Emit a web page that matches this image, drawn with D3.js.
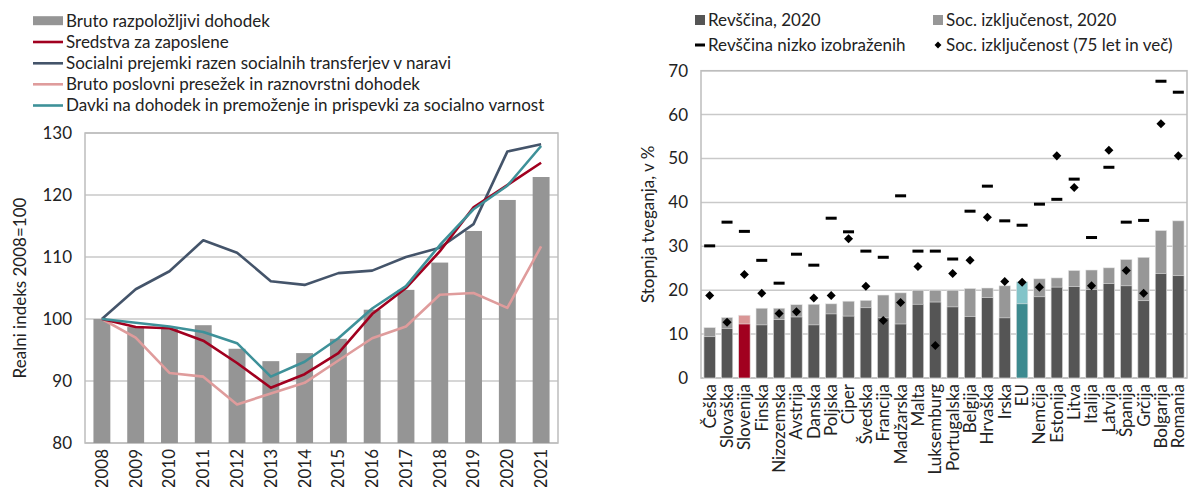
<!DOCTYPE html>
<html><head><meta charset="utf-8">
<script src="https://cdn.jsdelivr.net/npm/d3@7"></script>
<style>
html,body{margin:0;padding:0;background:#fff;}
svg{display:block;font-family:Lato,"Open Sans",sans-serif;}
</style></head>
<body>
<svg id="c" width="1188" height="487"></svg>
<script>
// ---------- Left chart data ----------
const years = ["2008","2009","2010","2011","2012","2013","2014","2015","2016","2017","2018","2019","2020","2021"];
const brutoRazpolozljivi = [100,98.7,98.5,99.0,95.2,93.2,94.5,96.8,101.5,104.7,109.1,114.2,119.2,122.9];
const sredstvaZaposlene = [100,98.7,98.5,96.5,92.9,88.9,91.1,94.5,100.8,105.0,110.9,118.0,121.6,125.2];
const socialniPrejemki = [100,104.8,107.7,112.7,110.7,106.1,105.5,107.4,107.8,110.0,111.5,115.3,127.0,128.2];
const brutoPoslovni = [100,97.0,91.3,90.7,86.2,88.0,89.7,93.3,96.9,98.8,103.9,104.2,101.8,111.7];
const davki = [100,99.4,98.8,97.9,96.1,90.7,93.1,96.9,101.7,105.3,111.9,117.7,121.5,127.9];
const leftTicks = [80,90,100,110,120,130];
const leftLegend = ["Bruto razpoložljivi dohodek","Sredstva za zaposlene","Socialni prejemki razen socialnih transferjev v naravi","Bruto poslovni presežek in raznovrstni dohodek","Davki na dohodek in premoženje in prispevki za socialno varnost"];

// ---------- Right chart data ----------
const countries = ["Češka","Slovaška","Slovenija","Finska","Nizozemska","Avstrija","Danska","Poljska","Ciper","Švedska","Francija","Madžarska","Malta","Luksemburg","Portugalska","Belgija","Hrvaška","Irska","EU","Nemčija","Estonija","Litva","Italija","Latvija","Španija","Grčija","Bolgarija","Romania"];
const revscina2020 = [9.4,11.3,12.3,12.1,13.3,13.9,12.1,14.6,14.1,16.0,13.7,12.3,16.8,17.3,16.2,14.0,18.3,13.7,16.9,18.5,20.7,20.8,20.2,21.5,21.0,17.6,23.8,23.3];
const socIzkljucenost2020 = [11.5,13.8,14.3,15.9,15.9,16.7,16.8,16.9,17.5,17.7,18.9,19.4,20.0,20.0,20.0,20.4,20.5,21.0,21.9,22.6,22.8,24.5,24.6,25.1,27.0,27.5,33.6,35.8];
const revscinaNizkoIzobrazenih = [30.1,35.5,33.4,26.8,21.6,28.2,25.7,36.4,33.3,28.9,27.5,41.5,28.9,28.9,27.1,38.0,43.7,35.8,34.8,39.6,40.7,45.3,32.0,48.0,35.5,35.9,67.6,65.1];
const socIzkljucenost75 = [18.8,12.7,23.6,19.3,14.7,15.1,18.2,18.8,31.7,20.9,13.1,17.2,25.4,7.4,23.8,26.8,36.6,22.0,21.8,20.7,50.6,43.4,21.0,51.9,24.5,19.3,57.9,50.6];
const rightTicks = [0,10,20,30,40,50,60,70];
const rightLegend = ["Revščina, 2020","Soc. izključenost, 2020","Revščina nizko izobraženih","Soc. izključenost (75 let in več)"];

const svg = d3.select("#c");
const FS = 17;
const gridCol = "#c9c9c9", frameCol = "#bdbdbd";

// ================= LEFT CHART =================
const L = {x0:85, x1:558, y0:133, y1:443};
const lx = d3.scaleBand().domain(years).range([L.x0, L.x1]).padding(0);
const ly = d3.scaleLinear().domain([80,130]).range([L.y1, L.y0]);
const lg = svg.append("g");

lg.selectAll("line.g").data(leftTicks).join("line")
  .attr("x1",L.x0).attr("x2",L.x1).attr("y1",d=>ly(d)).attr("y2",d=>ly(d))
  .attr("stroke",gridCol).attr("stroke-width",1.5);
lg.append("rect").attr("x",L.x0).attr("y",L.y0).attr("width",L.x1-L.x0).attr("height",L.y1-L.y0)
  .attr("fill","none").attr("stroke",frameCol).attr("stroke-width",1.5);

const bw = lx.bandwidth()*0.5;
lg.selectAll("rect.b").data(years).join("rect")
  .attr("x",d=>lx(d)+lx.bandwidth()/2-bw/2).attr("width",bw)
  .attr("y",(d,i)=>ly(brutoRazpolozljivi[i])).attr("height",(d,i)=>ly(80)-ly(brutoRazpolozljivi[i]))
  .attr("fill","#959595");

const lineSeries = [
  {v:socialniPrejemki, c:"#44546a"},
  {v:brutoPoslovni, c:"#df9c9c"},
  {v:sredstvaZaposlene, c:"#a1001f"},
  {v:davki, c:"#3e9199"}
];
const lineGen = d3.line().x((d,i)=>lx(years[i])+lx.bandwidth()/2).y(d=>ly(d));
lineSeries.forEach(s=>{
  lg.append("path").attr("d",lineGen(s.v)).attr("fill","none").attr("stroke",s.c)
    .attr("stroke-width",2.6).attr("stroke-linejoin","round");
});

const lyAxis = d3.axisLeft(ly).tickValues(leftTicks).tickSize(0).tickPadding(13);
const lya = lg.append("g").attr("transform",`translate(${L.x0},0)`).call(lyAxis);
lya.select(".domain").remove();
lya.selectAll("text").attr("font-size",FS).attr("fill","#222").attr("font-family","Lato, sans-serif");

const lxAxis = d3.axisBottom(lx).tickSize(0).tickPadding(0);
const lxa = lg.append("g").attr("transform",`translate(0,${L.y1})`).call(lxAxis);
lxa.select(".domain").remove();
lxa.selectAll("text").attr("font-size",FS).attr("fill","#222").attr("font-family","Lato, sans-serif")
  .attr("transform","rotate(-90)").attr("text-anchor","end").attr("x",-6).attr("y",0).attr("dy","0.35em");

lg.append("text").attr("transform",`translate(20,${(L.y0+L.y1)/2}) rotate(-90)`)
  .attr("text-anchor","middle").attr("dy","0.35em").attr("font-size",FS).attr("fill","#222")
  .text("Realni indeks 2008=100");

const legY = [20.7,42,63.3,84.3,105.5];
const legCols = ["#959595","#a1001f","#44546a","#df9c9c","#3e9199"];
leftLegend.forEach((t,i)=>{
  if(i===0){
    lg.append("rect").attr("x",33).attr("y",legY[i]-4.5).attr("width",30).attr("height",9).attr("fill",legCols[i]);
  } else {
    lg.append("line").attr("x1",33).attr("x2",63).attr("y1",legY[i]).attr("y2",legY[i])
      .attr("stroke",legCols[i]).attr("stroke-width",2.6);
  }
  lg.append("text").attr("x",66).attr("y",legY[i]).attr("dy","0.35em").attr("font-size",FS).attr("fill","#222").text(t);
});

// ================= RIGHT CHART =================
const R = {x0:701, x1:1187, y0:70.7, y1:378};
const rx = d3.scaleBand().domain(countries).range([R.x0, R.x1]).padding(0);
const ry = d3.scaleLinear().domain([0,70]).range([R.y1, R.y0]);
const rg = svg.append("g");

rg.selectAll("line.g").data(rightTicks).join("line")
  .attr("x1",R.x0).attr("x2",R.x1).attr("y1",d=>ry(d)).attr("y2",d=>ry(d))
  .attr("stroke",gridCol).attr("stroke-width",1.5);
rg.append("rect").attr("x",R.x0).attr("y",R.y0).attr("width",R.x1-R.x0).attr("height",R.y1-R.y0)
  .attr("fill","none").attr("stroke",frameCol).attr("stroke-width",1.5);

const rbw = rx.bandwidth()*0.66;
const cx = d=>rx(d)+rx.bandwidth()/2;
const darkCol = d=> d==="Slovenija" ? "#a1001f" : (d==="EU" ? "#3d8a8f" : "#555555");
const lightCol = d=> d==="Slovenija" ? "#d99696" : (d==="EU" ? "#83c4c9" : "#979797");

rg.selectAll("rect.l").data(countries).join("rect")
  .attr("x",d=>cx(d)-rbw/2).attr("width",rbw)
  .attr("y",(d,i)=>ry(socIzkljucenost2020[i])).attr("height",(d,i)=>ry(0)-ry(socIzkljucenost2020[i]))
  .attr("fill",lightCol).attr("stroke","#e6e6e6").attr("stroke-width",0.6);
rg.selectAll("rect.d").data(countries).join("rect")
  .attr("x",d=>cx(d)-rbw/2).attr("width",rbw)
  .attr("y",(d,i)=>ry(revscina2020[i])).attr("height",(d,i)=>ry(0)-ry(revscina2020[i]))
  .attr("fill",darkCol).attr("stroke","#e6e6e6").attr("stroke-width",0.6);

rg.selectAll("rect.dash").data(countries).join("rect")
  .attr("x",d=>cx(d)-5.5).attr("width",11)
  .attr("y",(d,i)=>ry(revscinaNizkoIzobrazenih[i])-1.5).attr("height",3).attr("fill","#000");
const dsym = d3.symbol().type(d3.symbolDiamond2).size(52);
rg.selectAll("path.dia").data(countries).join("path")
  .attr("d",dsym).attr("transform",(d,i)=>`translate(${cx(d)},${ry(socIzkljucenost75[i])})`)
  .attr("fill","#000");

const ryAxis = d3.axisLeft(ry).tickValues(rightTicks).tickSize(0).tickPadding(13);
const rya = rg.append("g").attr("transform",`translate(${R.x0},0)`).call(ryAxis);
rya.select(".domain").remove();
rya.selectAll("text").attr("font-size",FS).attr("fill","#222").attr("font-family","Lato, sans-serif");

const rxAxis = d3.axisBottom(rx).tickSize(0).tickPadding(0);
const rxa = rg.append("g").attr("transform",`translate(0,${R.y1})`).call(rxAxis);
rxa.select(".domain").remove();
rxa.selectAll("text").attr("font-size",FS).attr("fill","#222").attr("font-family","Lato, sans-serif")
  .attr("transform","rotate(-90)").attr("text-anchor","end").attr("x",-6).attr("y",0).attr("dy","0.35em");

rg.append("text").attr("transform",`translate(648,${(R.y0+R.y1)/2}) rotate(-90)`)
  .attr("text-anchor","middle").attr("dy","0.35em").attr("font-size",FS).attr("fill","#222")
  .text("Stopnja tveganja, v %");

const rl = [
  {x:695, y:20, t:rightLegend[0], k:"sq", c:"#555555"},
  {x:933, y:20, t:rightLegend[1], k:"sq", c:"#979797"},
  {x:695, y:45, t:rightLegend[2], k:"dash", c:"#000"},
  {x:933, y:45, t:rightLegend[3], k:"dia", c:"#000"}
];
rl.forEach(e=>{
  if(e.k==="sq") rg.append("rect").attr("x",e.x).attr("y",e.y-5).attr("width",10).attr("height",10).attr("fill",e.c);
  else if(e.k==="dash") rg.append("rect").attr("x",e.x).attr("y",e.y-1.5).attr("width",10).attr("height",3).attr("fill",e.c);
  else rg.append("path").attr("d",d3.symbol().type(d3.symbolDiamond2).size(30)).attr("transform",`translate(${e.x+5},${e.y})`).attr("fill",e.c);
  rg.append("text").attr("x",e.x+13).attr("y",e.y).attr("dy","0.35em").attr("font-size",FS).attr("fill","#222").text(e.t);
});
</script>
</body></html>
